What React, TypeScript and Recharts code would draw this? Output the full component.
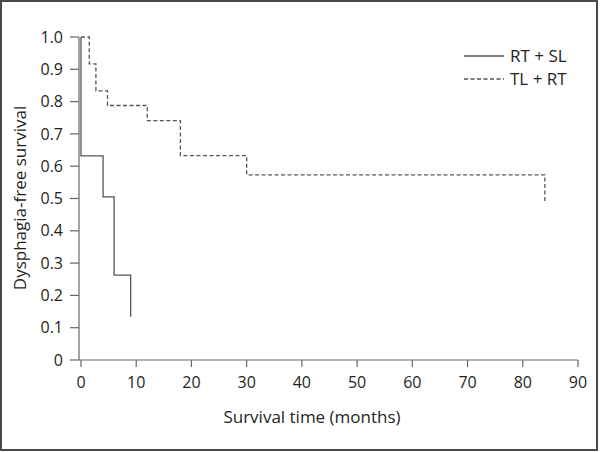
import React from 'react';
import { LineChart, Line, XAxis, YAxis, Legend } from 'recharts';

// Kaplan-Meier steps
const rtSlTime = [0, 0, 4, 6, 9];
const rtSlSurv = [1, 0.632, 0.505, 0.263, 0.134];

const tlRtTime = [0, 1.5, 2.7, 4.8, 12, 18, 30, 84];
const tlRtSurv = [1, 0.917, 0.833, 0.788, 0.741, 0.633, 0.573, 0.49];

const xTicks = [0, 10, 20, 30, 40, 50, 60, 70, 80, 90];
const yTicks = [0, 0.1, 0.2, 0.3, 0.4, 0.5, 0.6, 0.7, 0.8, 0.9, 1.0];

const seriesNames = ['RT + SL', 'TL + RT'];

const FONT = '"Open Sans", sans-serif';
const TEXT = '#231f20';
const AXIS = '#666';
const LINE = '#555';

const rtSlData = rtSlTime.map((t, i) => ({ t, s: rtSlSurv[i] }));
const tlRtData = tlRtTime.map((t, i) => ({ t, s: tlRtSurv[i] }));

const LegendBox = () => (
  <div style={{ fontFamily: FONT, fontSize: 17, color: TEXT, lineHeight: '23px', whiteSpace: 'nowrap' }}>
    {seriesNames.map((name, i) => (
      <div key={name} style={{ display: 'flex', alignItems: 'center', height: 23 }}>
        <svg width={40} height={6} style={{ marginRight: 6, flexShrink: 0 }}>
          <line
            x1={0}
            y1={3}
            x2={40}
            y2={3}
            stroke={LINE}
            strokeWidth={1.3}
            strokeDasharray={i === 1 ? '4 2.5' : undefined}
          />
        </svg>
        <span>{name}</span>
      </div>
    ))}
  </div>
);

export default function App() {
  return (
    <div style={{ position: 'absolute', left: 0, top: 0, width: 600, height: 452, background: '#fff' }}>
      <div
        style={{
          position: 'absolute',
          left: 0,
          top: 0,
          width: 598,
          height: 451,
          boxSizing: 'border-box',
          border: '2px solid #4a4a4a',
        }}
      />
      <LineChart
        width={600}
        height={452}
        margin={{ top: 37, right: 22, bottom: 32, left: 0 }}
        style={{ fontFamily: FONT, position: 'absolute', left: 0, top: 0 }}
      >
        <XAxis
          dataKey="t"
          type="number"
          domain={[-0.36, 90]}
          ticks={xTicks}
          allowDataOverflow
          height={60}
          tickSize={7}
          tickMargin={10}
          stroke={AXIS}
          strokeWidth={1.2}
          tick={{ fill: TEXT, fontSize: 16 }}
          label={{
            content: () => (
              <text x={312} y={423} textAnchor="middle" fill={TEXT} fontSize={17} fontFamily={FONT}>
                Survival time (months)
              </text>
            ),
          }}
        />
        <YAxis
          type="number"
          domain={[0, 1]}
          ticks={yTicks}
          width={79}
          tickSize={9}
          tickMargin={7}
          stroke={AXIS}
          strokeWidth={1.2}
          tick={{ fill: TEXT, fontSize: 16 }}
          tickFormatter={(v: number) => (v === 0 ? '0' : v.toFixed(1))}
          label={{
            content: () => (
              <text
                x={26}
                y={198}
                textAnchor="middle"
                fill={TEXT}
                fontSize={17}
                fontFamily={FONT}
                transform="rotate(-90, 26, 198)"
              >
                Dysphagia-free survival
              </text>
            ),
          }}
        />
        <Legend
          layout="horizontal"
          verticalAlign="middle"
          align="center"
          wrapperStyle={{ top: 44, left: 464, width: 'auto' }}
          content={() => <LegendBox />}
        />
        <Line
          data={rtSlData}
          dataKey="s"
          name={seriesNames[0]}
          type="stepAfter"
          stroke={LINE}
          strokeWidth={1.3}
          dot={false}
          activeDot={false}
          isAnimationActive={false}
        />
        <Line
          data={tlRtData}
          dataKey="s"
          name={seriesNames[1]}
          type="stepAfter"
          stroke={LINE}
          strokeWidth={1.3}
          strokeDasharray="4 2.5"
          dot={false}
          activeDot={false}
          isAnimationActive={false}
        />
      </LineChart>
    </div>
  );
}
